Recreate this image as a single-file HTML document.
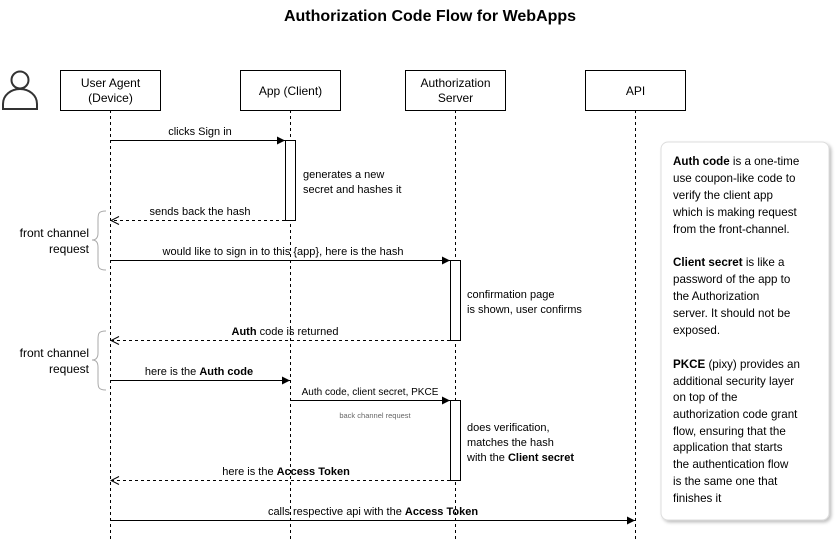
<!DOCTYPE html>
<html><head><meta charset="utf-8"><style>
html,body{margin:0;padding:0;background:#fff;}
svg{display:block;}
text{font-family:"Liberation Sans",sans-serif;fill:#000;}
.n{font-family:"DejaVu Sans",sans-serif;font-size:11.6px;fill:#111;}
</style></head><body>
<svg width="838" height="541" viewBox="0 0 838 541" xmlns="http://www.w3.org/2000/svg">
<defs>
<marker id="af" markerWidth="10" markerHeight="10" refX="9" refY="5" orient="auto" markerUnits="userSpaceOnUse"><path d="M1,1 L9,5 L1,9 Z" fill="#000"/></marker>
<marker id="ao" markerWidth="10" markerHeight="10" refX="9" refY="5" orient="auto" markerUnits="userSpaceOnUse"><path d="M1,1 L9,5 L1,9" fill="none" stroke="#000"/></marker>
<filter id="sh" x="-10%" y="-10%" width="120%" height="120%"><feDropShadow dx="2" dy="2" stdDeviation="1.5" flood-color="#000" flood-opacity="0.25"/></filter>
</defs>
<text x="430" y="21" text-anchor="middle" font-size="16" font-weight="bold">Authorization Code Flow for WebApps</text>

<!-- person -->
<circle cx="20" cy="80" r="8.5" fill="none" stroke="#333" stroke-width="2"/>
<path d="M3,109 L3,104 C3,95 11,89 20,89 C29,89 37,95 37,104 L37,109 Z" fill="none" stroke="#333" stroke-width="2"/>

<!-- lifelines -->
<g stroke="#000" stroke-dasharray="3,3" stroke-width="1">
<line x1="110.5" y1="110" x2="110.5" y2="541"/>
<line x1="290.5" y1="110" x2="290.5" y2="541"/>
<line x1="455.5" y1="110" x2="455.5" y2="541"/>
<line x1="635.5" y1="110" x2="635.5" y2="541"/>
</g>
<g fill="#fff" stroke="#000">
<rect x="60.5" y="70.5" width="100" height="40"/>
<rect x="240.5" y="70.5" width="100" height="40"/>
<rect x="405.5" y="70.5" width="100" height="40"/>
<rect x="585.5" y="70.5" width="100" height="40"/>
</g>
<g font-size="12" text-anchor="middle">
<text x="110.5" y="87">User Agent</text><text x="110.5" y="102">(Device)</text>
<text x="290.5" y="95">App (Client)</text>
<text x="455.5" y="87">Authorization</text><text x="455.5" y="102">Server</text>
<text x="635.5" y="95">API</text>
</g>

<g fill="#fff" stroke="#000">
<rect x="285.5" y="140.5" width="10" height="80"/>
<rect x="450.5" y="260.5" width="10" height="80"/>
<rect x="450.5" y="400.5" width="10" height="80"/>
</g>

<g stroke="#000" fill="none">
<line x1="110.5" y1="140.5" x2="285" y2="140.5" marker-end="url(#af)"/>
<line x1="285" y1="220.5" x2="111" y2="220.5" stroke-dasharray="3,3" marker-end="url(#ao)"/>
<line x1="110.5" y1="260.5" x2="450" y2="260.5" marker-end="url(#af)"/>
<line x1="450" y1="340.5" x2="111" y2="340.5" stroke-dasharray="3,3" marker-end="url(#ao)"/>
<line x1="110.5" y1="380.5" x2="290" y2="380.5" marker-end="url(#af)"/>
<line x1="290.5" y1="400.5" x2="450" y2="400.5" marker-end="url(#af)"/>
<line x1="450" y1="480.5" x2="111" y2="480.5" stroke-dasharray="3,3" marker-end="url(#ao)"/>
<line x1="110.5" y1="520.5" x2="635" y2="520.5" marker-end="url(#af)"/>
</g>
<g font-size="11" text-anchor="middle">
<text x="200" y="135">clicks Sign in</text>
<text x="200" y="215">sends back the hash</text>
<text x="283" y="255">would like to sign in to this {app}, here is the hash</text>
<text x="285" y="335"><tspan font-weight="bold">Auth</tspan> code is returned</text>
<text x="199" y="375">here is the <tspan font-weight="bold">Auth code</tspan></text>
<text x="370" y="395" font-size="10">Auth code, client secret, PKCE</text>
<text x="375" y="418" font-size="7.5" style="fill:#666">back channel request</text>
<text x="286" y="475">here is the <tspan font-weight="bold">Access Token</tspan></text>
<text x="373" y="515">calls respective api with the <tspan font-weight="bold">Access Token</tspan></text>
</g>
<g font-size="11">
<text x="303" y="178">generates a new</text>
<text x="303" y="193">secret and hashes it</text>
<text x="467" y="298">confirmation page</text>
<text x="467" y="313">is shown, user confirms</text>
<text x="467" y="431">does verification,</text>
<text x="467" y="446">matches the hash</text>
<text x="467" y="461">with the <tspan font-weight="bold">Client secret</tspan></text>
</g>

<g stroke="#aaa" fill="none">
<path d="M106,211 C98,211 98,214 98,220 L98,233 C98,238 96,240 92,240 C96,240 98,242 98,247 L98,261 C98,267 98,270 106,270"/>
<path d="M106,331 C98,331 98,334 98,340 L98,353 C98,358 96,360 92,360 C96,360 98,362 98,367 L98,381 C98,387 98,390 106,390"/>
</g>
<g font-size="12" text-anchor="end">
<text x="89" y="237">front channel</text><text x="89" y="253">request</text>
<text x="89" y="357">front channel</text><text x="89" y="373">request</text>
</g>

<rect x="661" y="142" width="168" height="378" rx="7" fill="#fff" stroke="#ddd" filter="url(#sh)"/>
<g class="n">
<text x="673" y="165"><tspan font-weight="bold">Auth code</tspan> is a one-time</text>
<text x="673" y="182">use coupon-like code to</text>
<text x="673" y="199">verify the client app</text>
<text x="673" y="216">which is making request</text>
<text x="673" y="233">from the front-channel.</text>
<text x="673" y="266"><tspan font-weight="bold">Client secret</tspan> is like a</text>
<text x="673" y="283">password of the app to</text>
<text x="673" y="300">the Authorization</text>
<text x="673" y="317">server. It should not be</text>
<text x="673" y="334">exposed.</text>
<text x="673" y="368"><tspan font-weight="bold">PKCE</tspan> (pixy) provides an</text>
<text x="673" y="385">additional security layer</text>
<text x="673" y="401">on top of the</text>
<text x="673" y="418">authorization code grant</text>
<text x="673" y="435">flow, ensuring that the</text>
<text x="673" y="451">application that starts</text>
<text x="673" y="468">the authentication flow</text>
<text x="673" y="485">is the same one that</text>
<text x="673" y="502">finishes it</text>
</g>
</svg>
</body></html>
